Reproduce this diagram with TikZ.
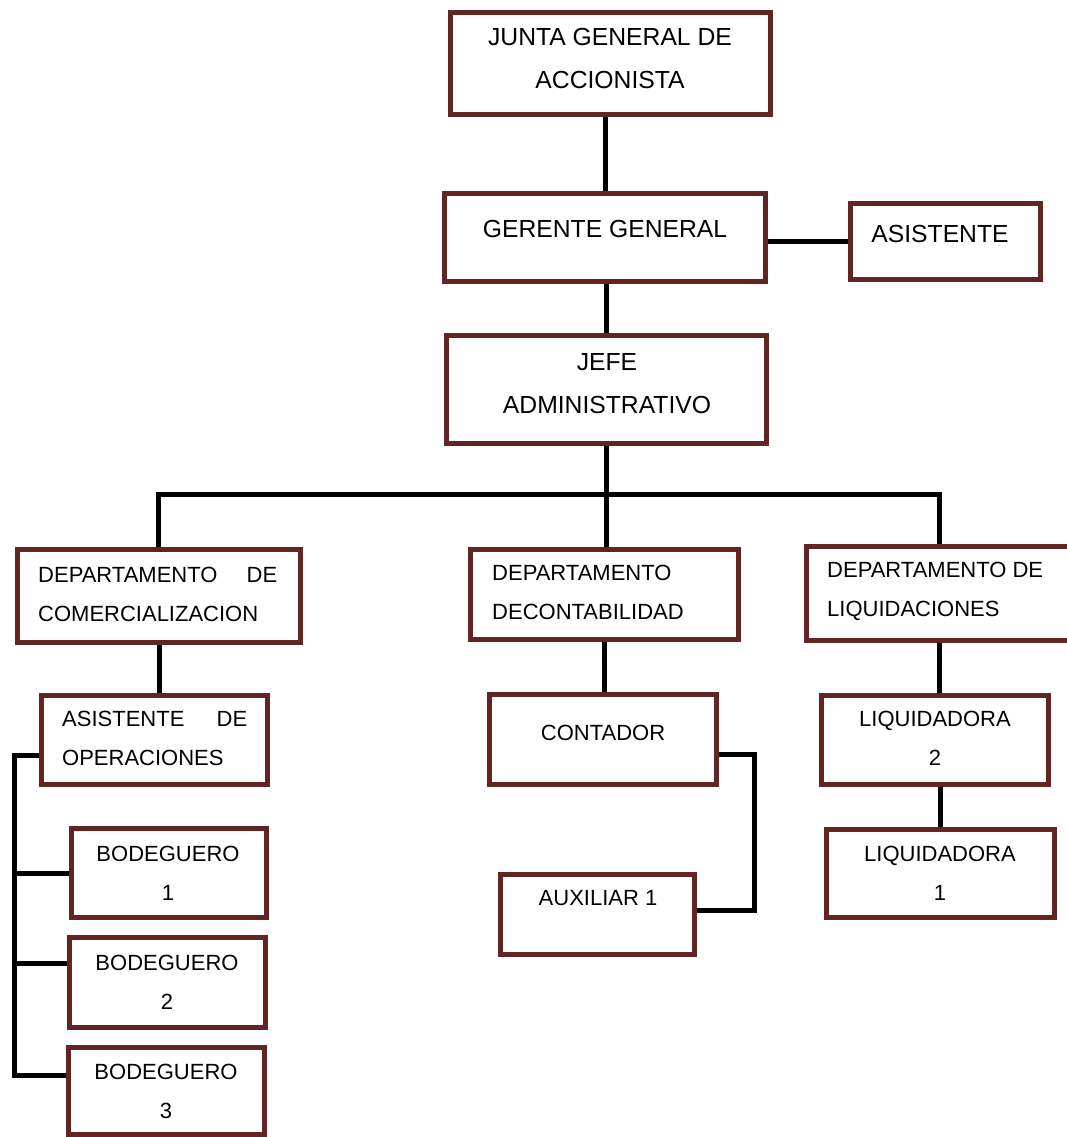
\documentclass[tikz,border=0pt]{standalone}
\usepackage{fontspec}
\setmainfont{Liberation Sans}
\definecolor{boxred}{RGB}{99,36,36}

\begin{document}
\begin{tikzpicture}[x=1pt,y=-1pt,
	box/.style={draw=boxred,line width=5pt,inner sep=0pt},
	big/.style={inner sep=0pt,align=center,font=\fontsize{24.7pt}{43pt}\selectfont},
	small/.style={inner sep=0pt,align=center,font=\fontsize{22pt}{39pt}\selectfont},
	lefttext/.style={small,align=left,anchor=west},
	link/.style={line width=5pt,line join=miter}]
	\useasboundingbox (0,0) rectangle (1067,1137);

	% boxes
	\node[box,minimum width=320pt,minimum height=102pt] (junta) at (610.5,63.5) {};
	\node[box,minimum width=321pt,minimum height=88pt] (gerente) at (605,237.5) {};
	\node[box,minimum width=190pt,minimum height=76pt] (asistente) at (945.5,241.5) {};
	\node[box,minimum width=320pt,minimum height=108pt] (jefe) at (606.5,389.5) {};
	\node[box,minimum width=283pt,minimum height=93pt] (depcom) at (159,596) {};
	\node[box,minimum width=268pt,minimum height=90pt] (depcon) at (604.5,594.5) {};
	\node[box,minimum width=271pt,minimum height=94pt] (depliq) at (942,593.5) {};
	\node[box,minimum width=226pt,minimum height=89pt] (asisop) at (154.5,740) {};
	\node[box,minimum width=227pt,minimum height=90pt] (contador) at (603,739.5) {};
	\node[box,minimum width=227pt,minimum height=89pt] (liq2) at (935,740) {};
	\node[box,minimum width=195pt,minimum height=89pt] (bod1) at (169,873) {};
	\node[box,minimum width=196pt,minimum height=90pt] (bod2) at (167.5,982.5) {};
	\node[box,minimum width=196pt,minimum height=87pt] (bod3) at (166.5,1091) {};
	\node[box,minimum width=194pt,minimum height=80pt] (auxiliar) at (597.5,914.5) {};
	\node[box,minimum width=228pt,minimum height=88pt] (liq1) at (940.5,873.5) {};

	% texts
	\node[big] (junta-t) at (610,58.5) {JUNTA GENERAL DE\\ACCIONISTA};
	\node[big] (gerente-t) at (605,229) {GERENTE GENERAL};
	\node[big] (asistente-t) at (940,234) {ASISTENTE};
	\node[big] (jefe-t) at (607,383.5) {JEFE\\ADMINISTRATIVO};
	\node[lefttext] (depcom-t) at (38,594) {\hbox to 239pt{DEPARTAMENTO\hfill DE}\\COMERCIALIZACION};
	\node[lefttext] (depcon-t) at (492,592.5) {DEPARTAMENTO\\DECONTABILIDAD};
	\node[lefttext] (depliq-t) at (827,591) {DEPARTAMENTO DE\\LIQUIDACIONES};
	\node[lefttext] (asisop-t) at (62,738.5) {\hbox to 185pt{ASISTENTE\hfill DE}\\OPERACIONES};
	\node[small] (contador-t) at (603,733) {CONTADOR};
	\node[small] (liq2-t) at (935,738.5) {LIQUIDADORA\\2};
	\node[small] (bod1-t) at (168,873) {BODEGUERO\\1};
	\node[small] (bod2-t) at (167,982) {BODEGUERO\\2};
	\node[small] (bod3-t) at (166,1091) {BODEGUERO\\3};
	\node[small] (auxiliar-t) at (598,898) {AUXILIAR 1};
	\node[small] (liq1-t) at (940,873) {LIQUIDADORA\\1};

	% joints of the lines
	\coordinate (busl) at (158,494);
	\coordinate (busr) at (939,494);
	\coordinate (trunk) at (14,755);
	\coordinate (b1) at (14,873);
	\coordinate (b2) at (14,963);
	\coordinate (b3) at (14,1075);
	\coordinate (ctop) at (754,754);
	\coordinate (cbot) at (754,910);

	% lines
	\draw[link] (gerente.north) -- (gerente.north |- junta.south);
	\draw[link] (gerente.east |- asistente.west) -- (asistente.west);
	\draw[link] (jefe.north) -- (jefe.north |- gerente.south);
	\draw[link] (jefe.south) -- (jefe.south |- depcon.north);
	\draw[link] (busl |- depcom.north) -- (busl) -- (busr) -- (busr |- depliq.north);
	\draw[link] (depcom.south) -- (depcom.south |- asisop.north);
	\draw[link] (asisop.west |- trunk) -- (trunk) -- (b3) -- (b3 -| bod3.west);
	\draw[link] (b1) -- (b1 -| bod1.west);
	\draw[link] (b2) -- (b2 -| bod2.west);
	\draw[link] (depcon.south) -- (depcon.south |- contador.north);
	\draw[link] (ctop -| contador.east) -- (ctop) -- (cbot) -- (cbot -| auxiliar.east);
	\draw[link] (busr |- depliq.south) -- (busr |- liq2.north);
	\draw[link] (liq1.north) -- (liq1.north |- liq2.south);
\end{tikzpicture}
\end{document}
